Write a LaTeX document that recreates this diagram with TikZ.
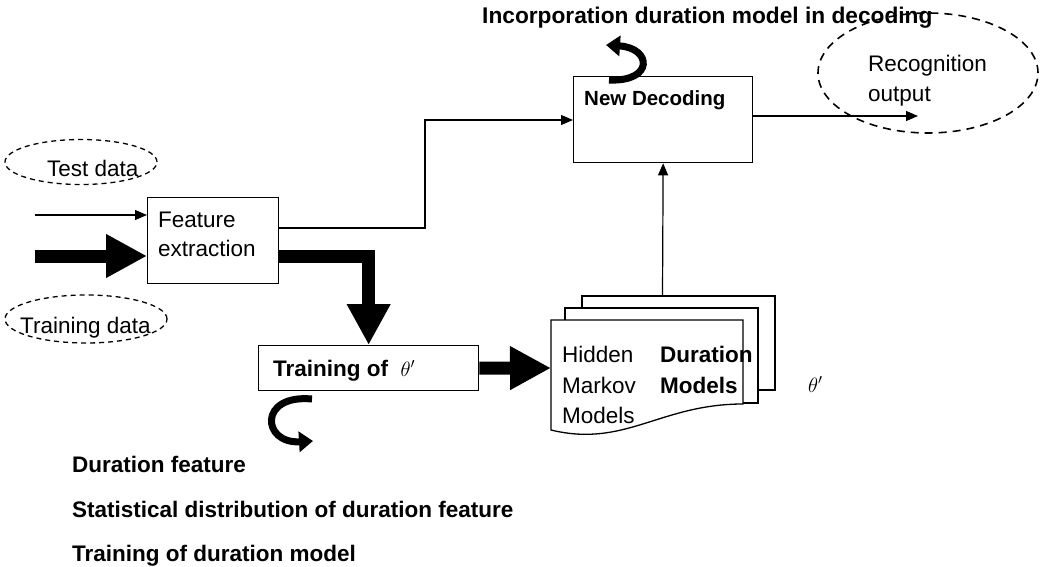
\documentclass[tikz,border=0pt]{standalone}
\usepackage{fontspec}
\setmainfont{Liberation Sans}
\usetikzlibrary{arrows.meta,shapes.geometric}
\begin{document}
\begin{tikzpicture}[x=1pt,y=-1pt,
  box/.style={draw, line width=1.3pt, fill=white, inner sep=0pt, anchor=north west},
  thinarr/.style={line width=1.2pt, -{Triangle[length=12pt,width=10pt]}},
  conn/.style={line width=1.2pt},
  fatarr/.style={line width=13pt, -{Triangle[length=41pt,width=41pt]}, line join=miter},
  curvarr/.style={line width=7pt, -{Triangle[length=14pt,width=20pt]}},
  dashell/.style={draw, ellipse, line width=1.3pt, dash pattern=on 5pt off 4pt, inner sep=0pt},
  bigdashell/.style={draw, ellipse, line width=1.6pt, dash pattern=on 8pt off 6pt, inner sep=0pt},
  doc/.style={draw, line width=1.3pt, fill=white},
  txt/.style={font=\fontsize{22.5}{28}\selectfont, inner sep=0pt, anchor=base west},
  btxt/.style={font=\fontsize{22.5}{28}\selectfont\bfseries, inner sep=0pt, anchor=base west},
]
\useasboundingbox (0,0) rectangle (1042,567);

% title
\node[btxt, font=\fontsize{22.7}{28}\selectfont\bfseries] (title) at (482,24) {Incorporation duration model in decoding};

% recognition output ellipse
\node[bigdashell, minimum width=220pt, minimum height=120pt] (recell) at (928,73) {};
\node[txt] (rec1) at (868,72) {Recognition};
\node[txt] (rec2) at (868,102) {output};

% New decoding box
\node[box, minimum width=179pt, minimum height=86pt] (dec) at (573,76) {};
\node[btxt, font=\fontsize{20.5}{26}\selectfont\bfseries] (dectxt) at (584,106) {New Decoding};
\coordinate (outtip) at (918,116);
\draw[thinarr] (dec.east |- outtip) -- (outtip);

% curved arrow on top of decoding box
\coordinate (c1s) at (609,80);
\coordinate (c1e) at (606,45);
\draw[curvarr] (c1s) .. controls (654,82) and (652,48) .. (c1e);

% test / training data ellipses
\node[dashell, minimum width=152pt, minimum height=45pt] (testell) at (81,162) {};
\node[txt] (testtxt) at (47,176) {Test data};
\node[dashell, minimum width=162pt, minimum height=48pt] (trainell) at (86,319) {};
\node[txt] (traintxt) at (20,333) {Training data};

% feature extraction
\node[box, minimum width=131pt, minimum height=86pt] (fe) at (147,197) {};
\node[txt] (fetxt1) at (158,227) {Feature};
\node[txt] (fetxt2) at (158,256) {extraction};
\coordinate (in1) at (35,215);
\coordinate (in2) at (35,256);
\draw[thinarr] (in1) -- (fe.west |- in1);
\draw[fatarr] (in2) -- (fe.west |- in2);

% feature -> decoding
\coordinate (bend) at (425,120);
\draw[conn, -{Triangle[length=12pt,width=10pt]}] (fe.east |- 0,228) -| (bend) -- (dec.west |- bend);

% training box
\node[box, minimum width=220pt, minimum height=45pt] (trn) at (258,345) {};
\node[btxt] (trntxt) at (273,376) {Training of~~\textmd{$\theta'$}};
\draw[fatarr] (fe.east |- 0,256) -| (trn.north);

% curved arrow under training box
\coordinate (c2s) at (312,399);
\coordinate (c2e) at (313,441);
\draw[curvarr] (c2s) .. controls (258,394) and (262,444) .. (c2e);

% document stack
\draw[doc] (582,296) rectangle (775,390);
\draw[doc] (565,308) rectangle (758,403);
\draw[doc] (551,320) -- (743,320) -- (743,404) .. controls (660,404) and (625,448) .. (551,430) -- cycle;
\coordinate (docl) at (551,368);
\coordinate (doctop) at (662.5,296);
\draw[fatarr] (trn.east) -- (docl);
\draw[conn, -{Triangle[length=12pt,width=10pt]}] (doctop) -- (dec.south);

\node[txt] (hmm1) at (562,362) {Hidden};
\node[txt] (hmm2) at (562,393) {Markov};
\node[txt] (hmm3) at (562,423) {Models};
\node[btxt] (dur1) at (660,362) {Duration};
\node[btxt] (dur2) at (660,393) {Models};
\node[txt] (theta) at (808,392) {$\theta'$};

% bottom texts
\node[btxt] (b1) at (72,472) {Duration feature};
\node[btxt] (b2) at (72,517) {Statistical distribution of duration feature};
\node[btxt] (b3) at (72,561) {Training of duration model};
\end{tikzpicture}
\end{document}
